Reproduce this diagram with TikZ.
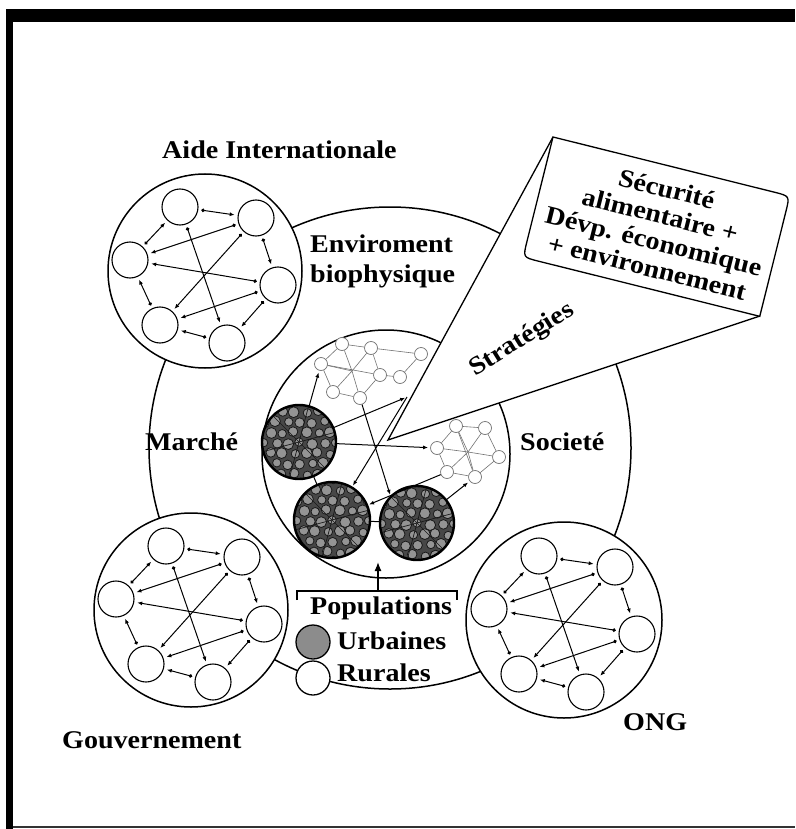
\documentclass[tikz,border=0pt]{standalone}
\usepackage{fontspec}
\setmainfont{Liberation Serif}[FakeStretch=1.1]
\usetikzlibrary{arrows.meta}
\newcommand\mynet[3]{%
  \begin{scope}[shift={(#2,#3)}]
    \node[smallc] (#1a) at (-25,-64) {};
    \node[smallc] (#1b) at (51,-53) {};
    \node[smallc] (#1c) at (-75,-11) {};
    \node[smallc] (#1d) at (73,14) {};
    \node[smallc] (#1e) at (-45,54) {};
    \node[smallc] (#1f) at (22,72) {};
  \end{scope}
  \draw[link] (#1a) -- (#1b);
  \draw[link] (#1b) -- (#1d);
  \draw[link] (#1d) -- (#1f);
  \draw[link] (#1f) -- (#1e);
  \draw[link] (#1e) -- (#1c);
  \draw[link] (#1c) -- (#1a);
  \draw[link] (#1d) -- (#1c);
  \draw[link] (#1b) -- (#1c);
  \draw[link] (#1b) -- (#1e);
  \draw[link] (#1a) -- (#1f);
  \draw[link] (#1d) -- (#1e);
}
\newcommand\darkcirc[5]{% name x y radius diameter
  \node[circle, inner sep=0, minimum size=#5pt, fill=black!72] (#1) at (#2,#3) {};
  \begin{scope}
    \clip (#1.center) circle[radius=#4pt];
    \foreach \i in {-4,...,4} {
      \foreach \j in {-4,...,4} {
        \pgfmathsetmacro\xx{\i*12+mod(abs(\j),2)*6+mod(abs(\i*7+\j*3),5)*0.6}
        \pgfmathsetmacro\yy{\j*10.4+mod(abs(\i*3+\j*5),4)*0.7}
        \pgfmathsetmacro\rr{4.2+mod(abs(\i*5+\j*2),3)*0.6}
        \draw[black!90, line width=0.8pt, fill=black!42] ([shift={(\xx,\yy)}]#1.center) circle[radius=\rr pt];
      }
    }
    \foreach \a in {0,60,...,300} {
      \draw[black!90, line width=0.7pt] (#1.center) -- ++(\a+15:#4pt);
    }
  \end{scope}
  \draw[line width=2.4pt] (#1.center) circle[radius=#4pt];
}
\begin{document}
\begin{tikzpicture}[x=1pt,y=-1pt,
  lab/.style={font=\bfseries\fontsize{25.5}{27}\selectfont, inner sep=0},
  smallc/.style={circle, draw, line width=1.1pt, minimum size=36pt, inner sep=0, fill=white},
  bigc/.style={circle, draw, line width=1.5pt, inner sep=0, fill=white},
  tinyc/.style={circle, draw=black!55, line width=0.7pt, minimum size=13pt, inner sep=0, fill=white},
  link/.style={line width=1pt, shorten <=3pt, shorten >=3pt, {Circle[length=3.5pt]}-{Latex[length=5pt,width=4pt]}},
  thinl/.style={black!55, line width=0.6pt},
  conn/.style={line width=1pt, -{Latex[length=5pt,width=4pt]}, shorten >=2pt},
  plain/.style={line width=1pt}
]
\useasboundingbox (0,0) rectangle (795,829);
\fill[white] (0,0) rectangle (795,829);
% frame
\fill[black] (6,9) rectangle (795,22);
\fill[black] (6,9) rectangle (13,829);
\fill[black!80] (13,826) rectangle (795,828);

% big ring and inner circle
\node[circle, draw, line width=1.5pt, inner sep=0, minimum size=482pt] (ring) at (390,448) {};
\node[circle, draw, line width=1.5pt, inner sep=0, minimum size=248pt] (inner) at (386,454) {};

% strategies wedge (white fill)
\coordinate (apex) at (388,440);
\coordinate (TL) at (553,137);
\coordinate (TR) at (790,196);
\coordinate (BR) at (760,316);
\fill[white] (apex) -- (TL) -- (TR) -- (BR) -- cycle;

% top light cluster
\node[tinyc] (t1) at (342,344) {};
\node[tinyc] (t2) at (371,348) {};
\node[tinyc] (t3) at (321,364) {};
\node[tinyc] (t4) at (380,375) {};
\node[tinyc] (t5) at (333,392) {};
\node[tinyc] (t6) at (360,398) {};
\node[tinyc] (t7) at (421,354) {};
\node[tinyc] (t8) at (400,377) {};
\coordinate (tc) at (352,371);
\draw[thinl] (t1) -- (t2); \draw[thinl] (t1) -- (t3); \draw[thinl] (t2) -- (t4);
\draw[thinl] (t3) -- (t5); \draw[thinl] (t5) -- (t6); \draw[thinl] (t6) -- (t4);
\draw[thinl] (t3) -- (t4); \draw[thinl] (t2) -- (t7); \draw[thinl] (t4) -- (t8);
\draw[thinl] (t8) -- (t7);
\foreach \n in {t1,t2,t3,t5,t6} { \draw[thinl] (tc) -- (\n); }

% right light cluster
\node[tinyc] (r1) at (456,426) {};
\node[tinyc] (r2) at (485,428) {};
\node[tinyc] (r3) at (437,448) {};
\node[tinyc] (r4) at (499,457) {};
\node[tinyc] (r5) at (447,472) {};
\node[tinyc] (r6) at (475,477) {};
\coordinate (rc) at (468,452);
\draw[thinl] (r1) -- (r2); \draw[thinl] (r1) -- (r3); \draw[thinl] (r2) -- (r4);
\draw[thinl] (r3) -- (r5); \draw[thinl] (r5) -- (r6); \draw[thinl] (r6) -- (r4);
\draw[thinl] (r1) -- (r6);
\foreach \n in {r1,r2,r3,r4,r5,r6} { \draw[thinl] (rc) -- (\n); }

% dark (urban) circles
\darkcirc{Ld}{299}{442}{37}{74}
\darkcirc{BLd}{332}{520}{38}{76}
\darkcirc{BRd}{417}{523}{37}{74}

% connectors
\coordinate (j1) at (407,397);
\draw[conn] (Ld) -- (j1);
\draw[conn] (j1) -- (BLd);
\draw[conn] (r5) -- (BLd);
\draw[conn] (t6) -- (BRd.north west);
\draw[conn] (Ld) -- (t3);
\draw[conn] (Ld) -- (r3);
\draw[conn] (BRd) -- (r6);
\draw[plain] (Ld) -- (BLd);
\draw[plain] (BLd) -- (BRd);

% wedge lines
\draw[line width=1.3pt] (TL) -- (apex) -- (BR);

% goal box
\begin{scope}[shift={(553,137)}, rotate=-14]
  \draw[line width=1.3pt, fill=white] (0,0) -- (228,0) .. controls (244,0) .. (244,16) -- (244,124) -- (16,124) .. controls (0,124) .. (0,108) -- cycle;
\end{scope}
\node[lab, align=center, rotate=-14] (goal) at (657,228) {Sécurité\\alimentaire +\\Dévp. économique\\+ environnement};

% outer circles with networks
\node[bigc, minimum size=194pt] (aide) at (205,271) {};
\mynet{a}{205}{271}
\node[bigc, minimum size=194pt] (gouvc) at (191,610) {};
\mynet{g}{191}{610}
\node[bigc, minimum size=196pt] (ongc) at (564,620) {};
\mynet{o}{564}{620}

% legend
\node[circle, draw, line width=1.3pt, fill=black!45, minimum size=34pt, inner sep=0] (lu) at (313,642) {};
\node[circle, draw, line width=1.3pt, fill=white, minimum size=34pt, inner sep=0] (lr) at (313,678) {};
\coordinate (bl) at (297,600);
\coordinate (bl2) at (297,591);
\coordinate (br2) at (457,591);
\coordinate (br) at (457,600);
\draw[line width=1.3pt] (bl) -- (bl2) -- (br2) -- (br);
\coordinate (bm) at (378,591);
\coordinate (btip) at (378,562);
\draw[line width=1.3pt, -{Latex[length=9pt,width=7pt]}] (bm) -- (btip);

% labels
\node[lab, anchor=base west] (aidel) at (162,159) {Aide Internationale};
\node[lab, anchor=base west] (env1) at (310,252) {Enviroment};
\node[lab, anchor=base west] (env2) at (310,282) {biophysique};
\node[lab, anchor=base west] (marche) at (145,450) {Marché};
\node[lab, anchor=base west] (soc) at (520,450) {Societé};
\node[lab, anchor=base west] (gouv) at (62,748) {Gouvernement};
\node[lab, anchor=base west] (ong) at (623,730) {ONG};
\node[lab, anchor=base west] (pop) at (310,614) {Populations};
\node[lab, anchor=base west] (urb) at (337,649) {Urbaines};
\node[lab, anchor=base west] (rur) at (337,681) {Rurales};
\node[lab, rotate=32] (strat) at (522,340) {Stratégies};
\end{tikzpicture}
\end{document}
